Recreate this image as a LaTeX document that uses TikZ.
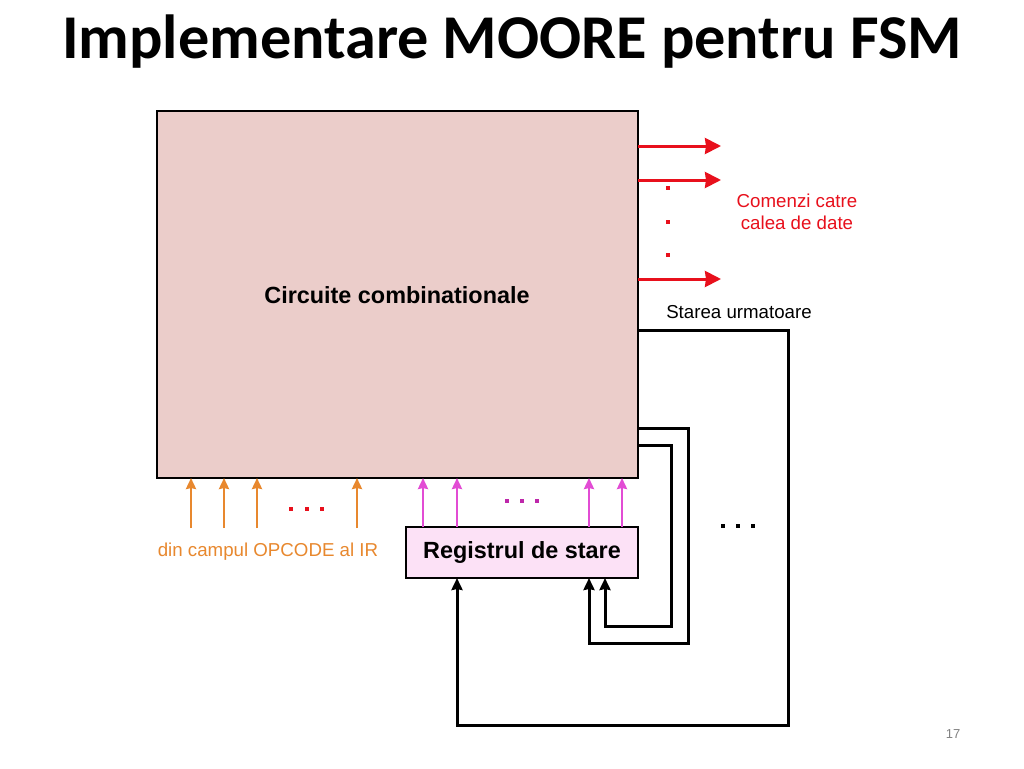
\documentclass[tikz,border=0pt]{standalone}
\usepackage{fontspec}
\setmainfont{Liberation Sans}
\newfontfamily\titlefont{Carlito}
\usetikzlibrary{arrows.meta}
\definecolor{boxfill}{RGB}{235,205,202}
\definecolor{regfill}{RGB}{252,225,246}
\definecolor{cred}{RGB}{232,16,28}
\definecolor{cmag}{RGB}{226,76,212}
\definecolor{cmagdot}{RGB}{190,40,170}
\definecolor{corange}{RGB}{232,136,46}
\definecolor{pgnum}{RGB}{130,130,130}
\tikzset{
  redarrow/.style={draw=cred, line width=3pt, -{Stealth[length=16pt,width=16pt,inset=1pt]}},
  orarrow/.style={draw=corange, line width=2.5pt, -{Stealth[length=11pt,width=10pt,inset=1pt]}},
  magarrow/.style={draw=cmag, line width=2.5pt, -{Stealth[length=11pt,width=10pt,inset=1pt]}},
  fb/.style={draw=black, line width=3pt, -{Stealth[length=12pt,width=11pt,inset=1pt]}},
  dotbox/.style={minimum size=4.5pt, inner sep=0pt, outer sep=0pt},
  plain/.style={font=\fontsize{18.7}{22}\selectfont, inner sep=0pt},
  boldlab/.style={font=\bfseries\fontsize{23.4}{26}\selectfont, inner sep=0pt}
}
\begin{document}
\begin{tikzpicture}[x=1pt,y=-1pt]
\useasboundingbox[fill=white] (0,0) rectangle (1024,768);
\node[font=\titlefont\bfseries\fontsize{62.3}{70}\selectfont, inner sep=0pt] (title) at (512,42) {Implementare MOORE pentru FSM};
% main block
\node[draw, line width=2pt, fill=boxfill, minimum width=481pt, minimum height=367pt, anchor=north west, inner sep=0pt, outer sep=0pt] (cc) at (157,111) {};
\node[boldlab] (cclab) at (397,295) {Circuite combinationale};
% register
\node[draw, line width=2pt, fill=regfill, minimum width=232pt, minimum height=51pt, anchor=north west, inner sep=0pt, outer sep=0pt, font=\bfseries\fontsize{23.4}{26}\selectfont] (reg) at (406,527) {Registrul de stare};
% red outputs
\coordinate (r1) at (721,146);
\coordinate (r2) at (721,180);
\coordinate (r3) at (721,279);
\draw[redarrow] (cc.east |- r1) -- (r1);
\draw[redarrow] (cc.east |- r2) -- (r2);
\draw[redarrow] (cc.east |- r3) -- (r3);
\node[dotbox, fill=cred] (rd1) at (668,188) {};
\node[dotbox, fill=cred] (rd2) at (668,222) {};
\node[dotbox, fill=cred] (rd3) at (668,255) {};
\node[plain, text=cred, align=center] (cmd) at (797,212) {Comenzi catre\\calea de date};
\node[plain] (next) at (739,312) {Starea urmatoare};
% feedback lines
\coordinate (f1a) at (788,330);
\coordinate (f1b) at (788,725);
\coordinate (f1c) at (457,725);
\draw[fb] (cc.east |- f1a) -- (f1a) -- (f1b) -- (f1c) -- (reg.south -| f1c);
\coordinate (f2a) at (688,428);
\coordinate (f2b) at (688,643);
\coordinate (f2c) at (589,643);
\draw[fb] (cc.east |- f2a) -- (f2a) -- (f2b) -- (f2c) -- (reg.south -| f2c);
\coordinate (f3a) at (671,445);
\coordinate (f3b) at (671,626);
\coordinate (f3c) at (605,626);
\draw[fb] (cc.east |- f3a) -- (f3a) -- (f3b) -- (f3c) -- (reg.south -| f3c);
\node[dotbox, fill=black] (bd1) at (723,526) {};
\node[dotbox, fill=black] (bd2) at (738,526) {};
\node[dotbox, fill=black] (bd3) at (753,526) {};
% orange inputs
\coordinate (o1) at (191,528);
\coordinate (o2) at (224,528);
\coordinate (o3) at (257,528);
\coordinate (o4) at (357,528);
\draw[orarrow] (o1) -- (cc.south -| o1);
\draw[orarrow] (o2) -- (cc.south -| o2);
\draw[orarrow] (o3) -- (cc.south -| o3);
\draw[orarrow] (o4) -- (cc.south -| o4);
\node[dotbox, fill=cred] (od1) at (291,509) {};
\node[dotbox, fill=cred] (od2) at (307,509) {};
\node[dotbox, fill=cred] (od3) at (322,509) {};
\node[plain, text=corange] (opc) at (268,552) {din campul OPCODE al IR};
% magenta
\coordinate (m1) at (423,0);
\coordinate (m2) at (457,0);
\coordinate (m3) at (589,0);
\coordinate (m4) at (622,0);
\draw[magarrow] (reg.north -| m1) -- (cc.south -| m1);
\draw[magarrow] (reg.north -| m2) -- (cc.south -| m2);
\draw[magarrow] (reg.north -| m3) -- (cc.south -| m3);
\draw[magarrow] (reg.north -| m4) -- (cc.south -| m4);
\node[dotbox, fill=cmagdot] (md1) at (507,501) {};
\node[dotbox, fill=cmagdot] (md2) at (522,501) {};
\node[dotbox, fill=cmagdot] (md3) at (537,501) {};
\node[font=\fontsize{13}{15}\selectfont, text=pgnum, inner sep=0pt] (pg) at (953,734) {17};
\end{tikzpicture}
\end{document}
